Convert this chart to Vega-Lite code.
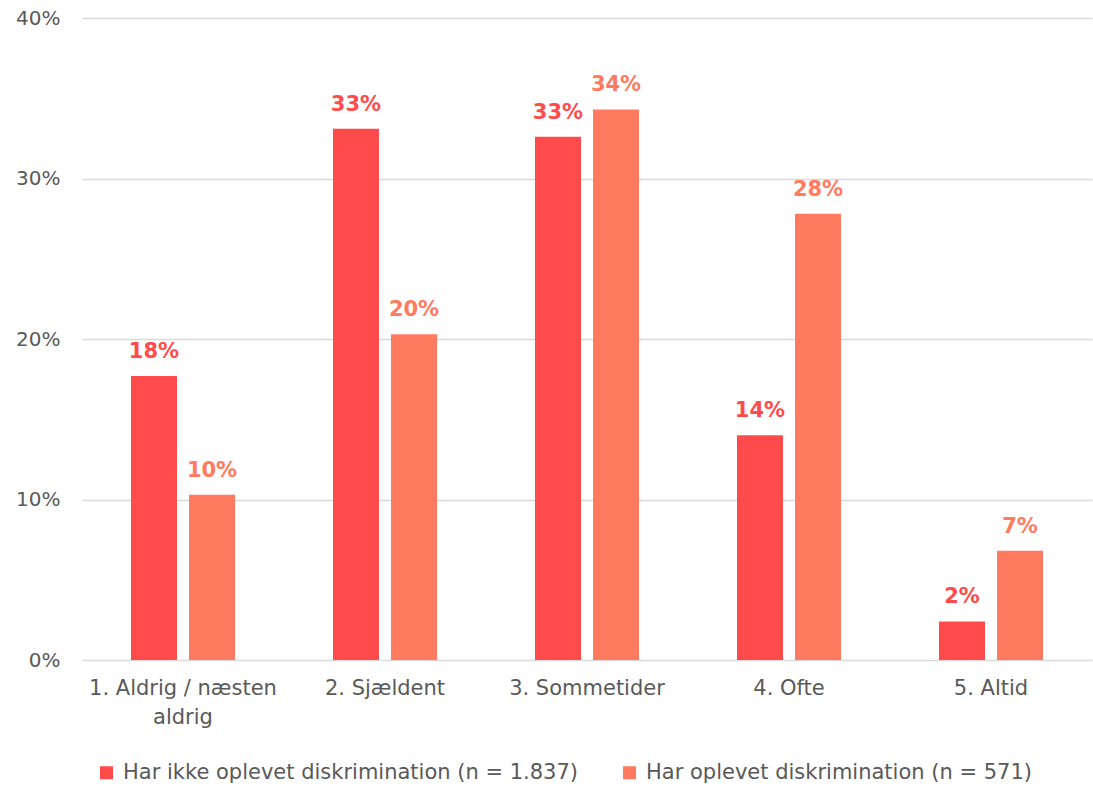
{
  "$schema": "https://vega.github.io/schema/vega-lite/v6.json",
  "autosize": {"type": "none"},
  "padding": {"left": 82, "top": 18, "right": 1, "bottom": 129},
  "width": 1010,
  "height": 642,
  "background": "white",
  "config": {
    "view": {"stroke": null},
    "font": "DejaVu Sans",
    "axis": {"labelFont": "DejaVu Sans", "labelColor": "#595959", "labelFontSize": 20}
  },
  "data": {
    "values": [
      {"kategori": "1. Aldrig / næsten aldrig", "gruppe": "Har ikke oplevet diskrimination (n = 1.837)", "andel": 0.177},
      {"kategori": "1. Aldrig / næsten aldrig", "gruppe": "Har oplevet diskrimination (n = 571)", "andel": 0.103},
      {"kategori": "2. Sjældent", "gruppe": "Har ikke oplevet diskrimination (n = 1.837)", "andel": 0.331},
      {"kategori": "2. Sjældent", "gruppe": "Har oplevet diskrimination (n = 571)", "andel": 0.203},
      {"kategori": "3. Sommetider", "gruppe": "Har ikke oplevet diskrimination (n = 1.837)", "andel": 0.326},
      {"kategori": "3. Sommetider", "gruppe": "Har oplevet diskrimination (n = 571)", "andel": 0.343},
      {"kategori": "4. Ofte", "gruppe": "Har ikke oplevet diskrimination (n = 1.837)", "andel": 0.140},
      {"kategori": "4. Ofte", "gruppe": "Har oplevet diskrimination (n = 571)", "andel": 0.278},
      {"kategori": "5. Altid", "gruppe": "Har ikke oplevet diskrimination (n = 1.837)", "andel": 0.024},
      {"kategori": "5. Altid", "gruppe": "Har oplevet diskrimination (n = 571)", "andel": 0.068}
    ]
  },
  "encoding": {
    "x": {
      "field": "kategori", "type": "nominal", "sort": null,
      "scale": {"paddingInner": 0.485, "paddingOuter": 0.2425},
      "axis": {
        "title": null, "domain": false, "ticks": false, "labelAngle": 0,
        "labelPadding": 17, "labelLimit": 300, "labelFontSize": 21, "labelLineHeight": 29,
        "labelExpr": "datum.label == '1. Aldrig / næsten aldrig' ? ['1. Aldrig / næsten', 'aldrig'] : datum.label"
      }
    },
    "xOffset": {
      "field": "gruppe", "type": "nominal", "sort": null,
      "scale": {"paddingInner": 0.207, "paddingOuter": 0}
    },
    "y": {
      "field": "andel", "type": "quantitative",
      "scale": {"domain": [0, 0.4], "nice": false},
      "axis": {
        "title": null, "format": ".0%", "values": [0, 0.1, 0.2, 0.3, 0.4],
        "labelOverlap": false, "labelFontSize": 20,
        "domain": false, "ticks": false, "labelPadding": 22,
        "gridColor": "#d9d9d9", "gridWidth": 1.5
      }
    },
    "color": {
      "field": "gruppe", "type": "nominal", "sort": null,
      "scale": {"range": ["#FF4B4B", "#FF7A5E"]},
      "legend": {
        "title": null, "orient": "none", "direction": "horizontal",
        "legendX": 14, "legendY": 744,
        "symbolType": "square", "symbolSize": 170, "symbolStrokeWidth": 0,
        "labelFont": "DejaVu Sans", "labelFontSize": 21, "labelColor": "#595959",
        "labelLimit": 600, "columnPadding": 40, "labelOffset": 6
      }
    }
  },
  "layer": [
    {"mark": {"type": "bar"}},
    {
      "mark": {"type": "text", "baseline": "alphabetic", "dy": -18, "fontWeight": "bold", "fontSize": 21, "font": "DejaVu Sans"},
      "encoding": {
        "text": {"field": "andel", "type": "quantitative", "format": ".0%"}
      }
    }
  ]
}
